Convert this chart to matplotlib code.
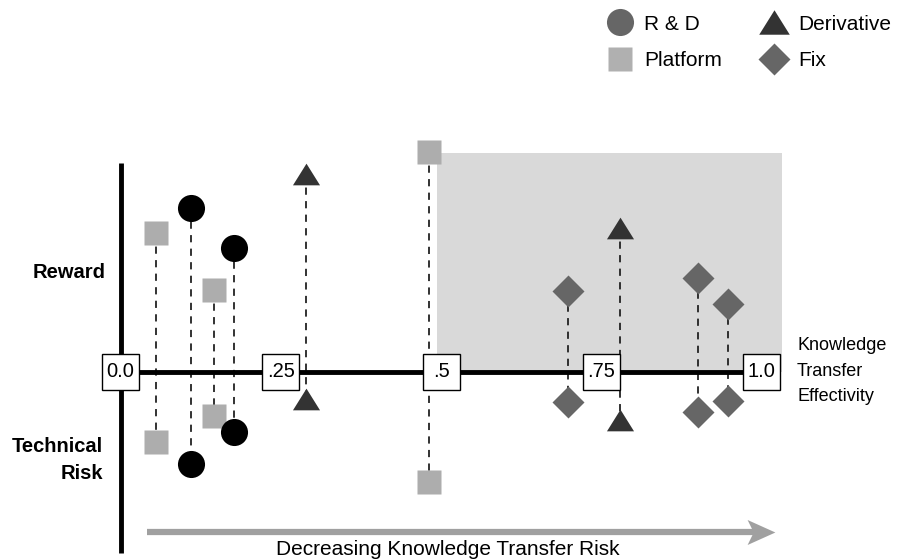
import matplotlib
matplotlib.use("Agg")
import matplotlib.pyplot as plt
from matplotlib.patches import Rectangle
from matplotlib.lines import Line2D

plt.rcParams['font.family'] = ['Liberation Sans', 'DejaVu Sans']

# ---- data ----
platform_x = [0.055, 0.146, 0.481]
platform_reward = [0.632, 0.373, 1.0]
platform_risk = [-0.318, -0.200, -0.500]

rd_x = [0.110, 0.177]
rd_reward = [0.745, 0.564]
rd_risk = [-0.418, -0.273]

deriv_x = [0.289, 0.779]
deriv_reward = [0.900, 0.655]
deriv_risk = [-0.123, -0.220]

fix_x = [0.698, 0.901, 0.948]
fix_reward = [0.368, 0.427, 0.309]
fix_risk = [-0.136, -0.182, -0.132]

tick_vals = [0.0, 0.25, 0.5, 0.75, 1.0]
tick_labels = ['0.0', '.25', '.5', '.75', '1.0']

# ---- figure ----
fig = plt.figure(figsize=(8.97, 5.59), dpi=100)
ax = fig.add_axes([0, 0, 1, 1])
ax.set_xlim(-0.188, 1.2114)
ax.set_ylim(-0.85, 1.6909)
ax.axis('off')

tri = [(-1, -0.8), (1, -0.8), (0, 0.8), (-1, -0.8)]
stealth = [(0.5, 0), (-0.5, 0.45), (-0.28, 0), (-0.5, -0.45), (0.5, 0)]

# shaded region
ax.add_patch(Rectangle((0.494, 0.0), 1.032 - 0.494, 0.995, facecolor='#d9d9d9',
                       edgecolor='none', zorder=0))

# axes lines
ax.plot([0, 1], [0, 0], color='black', lw=3.5, zorder=2, solid_capstyle='butt')
ax.plot([0, 0], [0.95, -0.823], color='black', lw=3.5, zorder=2, solid_capstyle='butt')

series = [
    (platform_x, platform_reward, platform_risk, 's', '#adadad', 17),
    (rd_x, rd_reward, rd_risk, 'o', '#000000', 19.5),
    (deriv_x, deriv_reward, deriv_risk, tri, '#333333', 19.5),
    (fix_x, fix_reward, fix_risk, 'D', '#666666', 16),
]
for xs, rw, rk, mk, col, ms in series:
    for x, a, b in zip(xs, rw, rk):
        ax.plot([x, x], [a, b], color='#222222', lw=1.3, ls=(0, (4, 3.5)), zorder=1)
    ax.plot(xs, rw, ls='none', marker=mk, color=col, ms=ms, mec='none', zorder=4)
    ax.plot(xs, rk, ls='none', marker=mk, color=col, ms=ms, mec='none', zorder=4)

# tick boxes
bw, bh = 37 / 641, 36 / 220
for v, lab in zip(tick_vals, tick_labels):
    ax.add_patch(Rectangle((v - bw / 2, -bh / 2), bw, bh, facecolor='white',
                           edgecolor='black', lw=1.0, zorder=5))
    ax.text(v, 0, lab, ha='center', va='center', fontsize=14.5, zorder=6)

# labels
ax.text(-0.0226, 0.4545, 'Reward', ha='right', va='center', fontsize=14.5,
        fontweight='bold')
ax.text(-0.0273, -0.40, 'Technical\nRisk', ha='right', va='center', fontsize=14.5,
        fontweight='bold', multialignment='right', linespacing=1.5)
ax.text(1.0554, 0.0045, 'Knowledge\nTransfer\nEffectivity', ha='left', va='center',
        fontsize=13, linespacing=1.69)
ax.text(0.511, -0.809, 'Decreasing Knowledge Transfer Risk', ha='center',
        va='center', fontsize=15)

# arrow
ax.plot([0.041, 0.99], [-0.727, -0.727], color='#a0a0a0', lw=4.5,
        solid_capstyle='butt', zorder=1)
ax.plot([0.9992], [-0.727], ls='none', marker=stealth, ms=20, color='#a0a0a0',
        mec='none', zorder=1)

# legend
handles = [
    Line2D([], [], ls='none', marker='o', color='#666666', ms=19.5, mec='none'),
    Line2D([], [], ls='none', marker='s', color='#b0b0b0', ms=17, mec='none'),
    Line2D([], [], ls='none', marker=tri, color='#333333', ms=22, mec='none'),
    Line2D([], [], ls='none', marker='D', color='#666666', ms=16.5, mec='none'),
]
labels = ['R & D', 'Platform', 'Derivative', 'Fix']
fig.legend(handles, labels, ncol=2, frameon=False, fontsize=15,
           loc='upper left', bbox_to_anchor=(590 / 897, 1.0),
           handletextpad=0.4, columnspacing=1.75, labelspacing=0.85,
           handlelength=1.5, borderpad=0.2)

fig.savefig('out.png', dpi=100)
